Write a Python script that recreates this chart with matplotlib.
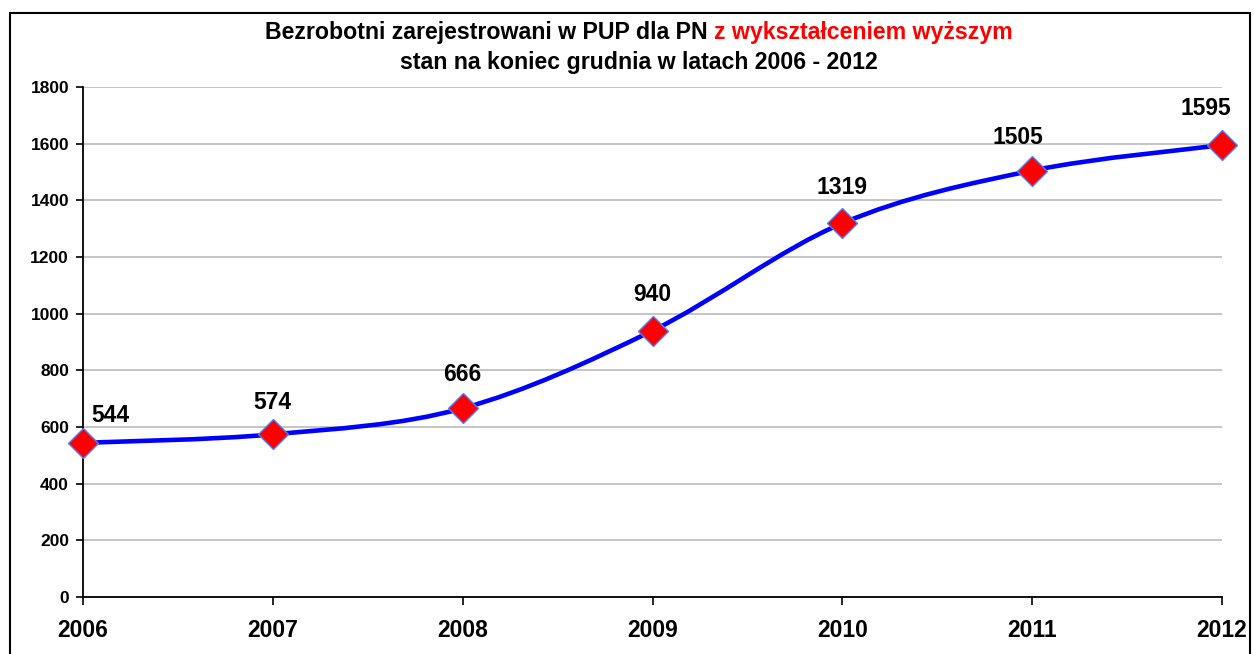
import matplotlib.pyplot as plt
import matplotlib.patches as patches
from matplotlib.path import Path
import numpy as np

plt.rcParams['font.family'] = ['Liberation Sans', 'DejaVu Sans']

lata = [2006, 2007, 2008, 2009, 2010, 2011, 2012]
bezrobotni = [544, 574, 666, 940, 1319, 1505, 1595]
# przesuniecia etykiet (punkty) - tylko styl
przesuniecia = [(20, 20), (0, 23), (0, 24), (0, 26), (0, 26), (-10, 24), (-12, 26)]

fig = plt.figure(figsize=(12.54, 6.54), dpi=100)
ax = fig.add_axes([83/1254, 1 - 597/654, (1222 - 83)/1254, (597 - 87)/654])

# wygladzona linia jak w Excelu (krzywe Beziera z danych)
x = np.array(lata, dtype=float)
y = np.array(bezrobotni, dtype=float)
pts = np.column_stack([x, y])
ext = np.vstack([pts[0], pts, pts[-1]])
verts = [tuple(pts[0])]
codes = [Path.MOVETO]
for i in range(len(pts) - 1):
    p0, p1, p2, p3 = ext[i], ext[i+1], ext[i+2], ext[i+3]
    c1 = p1 + (p2 - p0) / 6
    c2 = p2 - (p3 - p1) / 6
    verts += [tuple(c1), tuple(c2), tuple(p2)]
    codes += [Path.CURVE4] * 3
ax.add_patch(patches.PathPatch(Path(verts, codes), facecolor='none',
                               edgecolor='#0000ff', lw=3.3, zorder=3, clip_on=False))

ax.plot(lata, bezrobotni, linestyle='none', marker='D', markersize=15,
        markerfacecolor='#ff0000', markeredgecolor='#4f7fff', markeredgewidth=1,
        zorder=4, clip_on=False)

for xi, yi, off in zip(lata, bezrobotni, przesuniecia):
    ax.annotate(str(yi), (xi, yi), xytext=off, textcoords='offset points',
                ha='center', va='center', fontsize=16.5, fontweight='bold')

ax.set_xlim(2006, 2012)
ax.set_ylim(0, 1800)
ax.set_xticks(lata)
ax.set_yticks(range(0, 1801, 200))
ax.tick_params(axis='y', labelsize=12.5, length=5, width=1.2, pad=5)
ax.tick_params(axis='x', labelsize=16.5, length=6, width=1.2, pad=10)
for lab in ax.get_xticklabels() + ax.get_yticklabels():
    lab.set_fontweight('bold')
ax.grid(axis='y', color='#c0c0c0', lw=1.3)
ax.set_axisbelow(True)
for s in ['top', 'right']:
    ax.spines[s].set_visible(False)
for s in ['left', 'bottom']:
    ax.spines[s].set_linewidth(1.3)

# tytul dwukolorowy
t1 = fig.text(0, 1 - 33/654, 'Bezrobotni zarejestrowani w PUP dla PN ', fontsize=16.7,
              fontweight='bold', ha='left', va='center')
t2 = fig.text(0, 1 - 33/654, 'z wykształceniem wyższym', fontsize=16.7,
              fontweight='bold', color='#ff0000', ha='left', va='center')
fig.text(639/1254, 1 - 62/654, 'stan na koniec grudnia w latach 2006 - 2012', fontsize=16.7,
         fontweight='bold', ha='center', va='center')
fig.canvas.draw()
r = fig.canvas.get_renderer()
w1 = t1.get_window_extent(r).width
w2 = t2.get_window_extent(r).width
start = 639 - (w1 + w2) / 2
t1.set_x(start / 1254)
t2.set_x((start + w1) / 1254)

# ramka wykresu
fig.patches.append(patches.Rectangle((10/1254, -0.05), (1250 - 10)/1254, 1.05 - 13/654,
                                     transform=fig.transFigure, fill=False,
                                     edgecolor='black', lw=1.5))

plt.savefig('out.png', dpi=100)
